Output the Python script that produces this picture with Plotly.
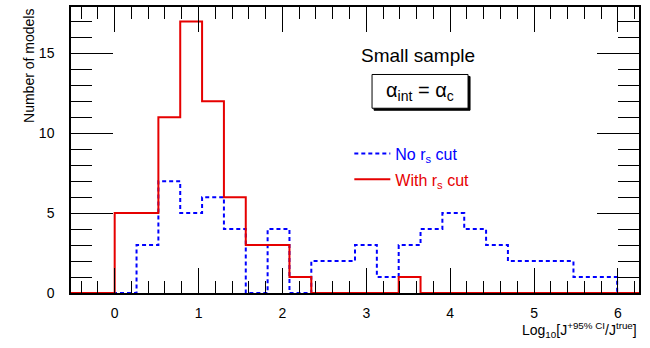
import plotly.graph_objects as go

# Histogram binning: 26 equal bins of log10(J_upper / J_true)
bin_low = -0.52
bin_width = 0.2604
n_bins = 26
bin_edges = [bin_low + i * bin_width for i in range(n_bins + 1)]

# Counts per bin
counts_no_cut = [0, 0, 0, 3, 7, 5, 6, 4, 0, 4, 0, 2, 2, 3, 1, 3, 4, 5, 4, 3, 2, 2, 2, 1, 1, 0]
counts_with_cut = [0, 0, 5, 5, 11, 17, 12, 6, 3, 3, 1, 0, 0, 0, 0, 1, 0, 0, 0, 0, 0, 0, 0, 0, 0, 0]

x_ticks = [0, 1, 2, 3, 4, 5, 6]
y_ticks = [0, 5, 10, 15]

FONT = "Liberation Sans, Arial, Helvetica, sans-serif"
BLUE = "#0000ff"
RED = "#e60000"


def step_y(counts):
    return list(counts) + [counts[-1]]


fig = go.Figure()
fig.add_trace(go.Scatter(
    x=bin_edges, y=step_y(counts_no_cut), mode="lines", line_shape="hv",
    line=dict(color=BLUE, width=2, dash="4px,3px"),
    name="<span style='color:#0000ff'>No r<sub>s</sub> cut</span>",
    legendgroup="a",
))
fig.add_trace(go.Scatter(
    x=bin_edges, y=step_y(counts_with_cut), mode="lines", line_shape="hv",
    line=dict(color=RED, width=2),
    name="<span style='color:#e60000'>With r<sub>s</sub> cut</span>",
    legendgroup="b",
))

axis_common = dict(
    showline=True, linecolor="black", linewidth=1.5, mirror="allticks",
    ticks="inside", tickcolor="black", tickwidth=1,
    showgrid=False, zeroline=False,
    tickfont=dict(family=FONT, size=14, color="black"),
)

fig.update_xaxes(
    range=[bin_low, bin_low + n_bins * bin_width],
    tickvals=x_ticks, ticklen=25, ticklabelstandoff=6,
    minor=dict(dtick=0.2, tick0=0, ticks="inside", ticklen=12, tickcolor="black", tickwidth=1),
    **axis_common,
)
fig.update_yaxes(
    range=[0, 17.9],
    tickvals=y_ticks, ticklen=42, ticklabelstandoff=12,
    minor=dict(dtick=1, tick0=0, ticks="inside", ticklen=21, tickcolor="black", tickwidth=1),
    **axis_common,
)

# label box (paper coordinates) and its drop shadow
box_x0, box_x1 = 0.530, 0.699
box_y0, box_y1 = 0.646, 0.764
shadow_dx, shadow_dy = 2 / 568, 2 / 288
shapes = [
    dict(type="rect", xref="paper", yref="paper", layer="above",
         x0=box_x0 + shadow_dx, x1=box_x1 + shadow_dx,
         y0=box_y0 - shadow_dy, y1=box_y1 - shadow_dy,
         fillcolor="black", line=dict(color="black", width=1)),
    dict(type="rect", xref="paper", yref="paper", layer="above",
         x0=box_x0, x1=box_x1, y0=box_y0, y1=box_y1,
         fillcolor="white", line=dict(color="black", width=1)),
]

annotations = [
    dict(text="Log<sub>10</sub>[J<sup>+95% CI</sup>/J<sup>true</sup>]",
         xref="paper", yref="paper", x=1.0, y=-0.128, xanchor="right", yanchor="middle",
         showarrow=False, font=dict(family=FONT, size=14, color="black")),
    dict(text="Number of models", textangle=-90,
         xref="paper", yref="paper", x=-0.074, y=1.0, xanchor="center", yanchor="top",
         showarrow=False, font=dict(family=FONT, size=14, color="black")),
    dict(text="Small sample",
         xref="paper", yref="paper", x=0.611, y=0.830, xanchor="center", yanchor="middle",
         showarrow=False, font=dict(family=FONT, size=19, color="black")),
    dict(text="α<sub>int</sub> = α<sub>c</sub>",
         xref="paper", yref="paper", x=(box_x0 + box_x1) / 2, y=(box_y0 + box_y1) / 2,
         xanchor="center", yanchor="middle",
         showarrow=False, font=dict(family=FONT, size=20, color="black")),
]

fig.update_layout(
    width=650, height=348,
    margin=dict(l=71, r=11, t=5, b=55),
    paper_bgcolor="white", plot_bgcolor="white",
    font=dict(family=FONT, size=14, color="black"),
    shapes=shapes,
    annotations=annotations,
    showlegend=True,
    legend=dict(x=0.49, y=0.547, xanchor="left", yanchor="top",
                bgcolor="rgba(0,0,0,0)", borderwidth=0, itemwidth=36,
                tracegroupgap=2, font=dict(family=FONT, size=16)),
)

fig.write_html("out.html")
